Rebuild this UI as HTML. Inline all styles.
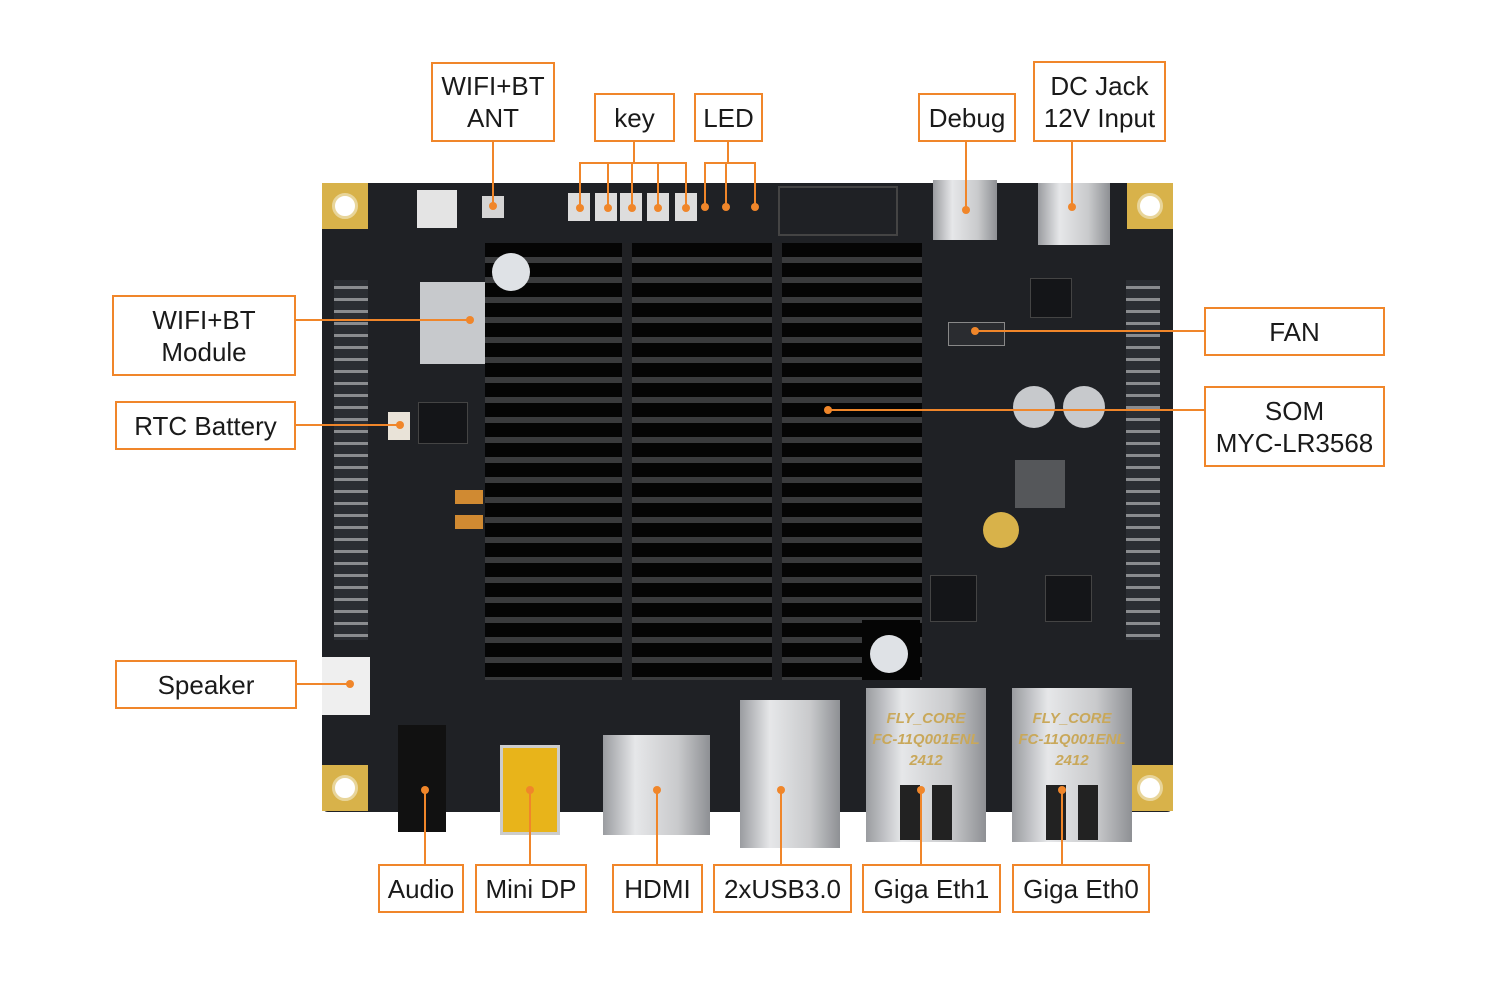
<!DOCTYPE html>
<html><head><meta charset="utf-8"><style>
body{margin:0;width:1500px;height:1000px;background:#fff;position:relative;overflow:hidden;font-family:"Liberation Sans",sans-serif}
.a{position:absolute}
.lb{position:absolute;border:2px solid #f0862a;background:#fff;color:#1a1a1a;font-size:26px;line-height:32px;text-align:center;display:flex;align-items:center;justify-content:center;box-sizing:border-box;font-family:"Liberation Sans",sans-serif}
.hole{position:absolute;width:46px;height:46px;background:#d8b24a}
.hole i{position:absolute;left:10px;top:10px;width:26px;height:26px;border-radius:50%;background:#fff;border:3px solid #e8d59a;box-sizing:border-box}
.hdr{position:absolute;background:repeating-linear-gradient(#2b2e33 0 6px,#8a8c8f 6px 9px,#2b2e33 9px 12px)}
.chip{position:absolute;background:#141518;border:1px solid #444}
.silver{position:absolute;background:linear-gradient(90deg,#9a9ca0,#e6e7e9 30%,#c9cacc 70%,#8e9094)}
.fly{position:absolute;color:#c9a85a;font-size:15px;line-height:21px;text-align:center;font-style:italic;white-space:nowrap;font-weight:bold}
</style></head><body>
<div class="a" style="left:322px;top:183px;width:851px;height:629px;background:#1f2125;border-radius:6px"></div>
<div class="hole" style="left:322px;top:183px"><i></i></div>
<div class="hole" style="left:1127px;top:183px"><i></i></div>
<div class="hole" style="left:322px;top:765px"><i></i></div>
<div class="hole" style="left:1127px;top:765px"><i></i></div>
<div class="hdr" style="left:334px;top:280px;width:34px;height:360px"></div>
<div class="hdr" style="left:1126px;top:280px;width:34px;height:360px"></div>
<div class="a" style="left:420px;top:282px;width:68px;height:82px;background:#c7c9cc"></div>
<div class="chip" style="left:418px;top:402px;width:48px;height:40px"></div>
<div class="a" style="left:388px;top:412px;width:22px;height:28px;background:#e9e3d8"></div>
<div class="a" style="left:455px;top:490px;width:28px;height:14px;background:#d08a32"></div>
<div class="a" style="left:455px;top:515px;width:28px;height:14px;background:#d08a32"></div>
<div class="a" style="left:417px;top:190px;width:40px;height:38px;background:#e4e4e4"></div>
<div class="chip" style="left:1030px;top:278px;width:40px;height:38px"></div>
<div class="a" style="left:1013px;top:386px;width:42px;height:42px;border-radius:50%;background:#c7c9cc"></div>
<div class="a" style="left:1063px;top:386px;width:42px;height:42px;border-radius:50%;background:#c7c9cc"></div>
<div class="a" style="left:1015px;top:460px;width:50px;height:48px;background:#55575a"></div>
<div class="a" style="left:983px;top:512px;width:36px;height:36px;border-radius:50%;background:#d8b24a"></div>
<div class="chip" style="left:930px;top:575px;width:45px;height:45px"></div>
<div class="chip" style="left:1045px;top:575px;width:45px;height:45px"></div>
<div class="a" style="left:948px;top:322px;width:55px;height:22px;background:#2a2c30;border:1px solid #888"></div>
<div class="a" style="left:485px;top:243px;width:437px;height:437px;background:repeating-linear-gradient(#050505 0 14px,#3a3b3d 14px 20px)"></div>
<div class="a" style="left:622px;top:243px;width:10px;height:437px;background:#202124"></div>
<div class="a" style="left:772px;top:243px;width:10px;height:437px;background:#202124"></div>
<div class="a" style="left:492px;top:253px;width:38px;height:38px;border-radius:50%;background:#dfe2e6"></div>
<div class="a" style="left:862px;top:620px;width:58px;height:60px;background:#050505"></div>
<div class="a" style="left:870px;top:635px;width:38px;height:38px;border-radius:50%;background:#dfe2e6"></div>
<div class="a" style="left:482px;top:196px;width:22px;height:22px;background:#d4d4d4"></div>
<div class="a" style="left:568px;top:193px;width:22px;height:28px;background:#ddd"></div>
<div class="a" style="left:595px;top:193px;width:22px;height:28px;background:#ddd"></div>
<div class="a" style="left:620px;top:193px;width:22px;height:28px;background:#ddd"></div>
<div class="a" style="left:647px;top:193px;width:22px;height:28px;background:#ddd"></div>
<div class="a" style="left:675px;top:193px;width:22px;height:28px;background:#ddd"></div>
<div class="a" style="left:778px;top:186px;width:120px;height:50px;border:2px solid #444;box-sizing:border-box"></div>
<div class="silver" style="left:933px;top:180px;width:64px;height:60px"></div>
<div class="silver" style="left:1038px;top:183px;width:72px;height:62px"></div>
<div class="a" style="left:322px;top:657px;width:48px;height:58px;background:#efefef"></div>
<div class="a" style="left:398px;top:725px;width:48px;height:107px;background:#111"></div>
<div class="a" style="left:500px;top:745px;width:60px;height:90px;background:#e8b41a;border:3px solid #ccc;box-sizing:border-box"></div>
<div class="silver" style="left:603px;top:735px;width:107px;height:100px"></div>
<div class="silver" style="left:740px;top:700px;width:100px;height:148px"></div>
<div class="silver" style="left:866px;top:688px;width:120px;height:154px"></div>
<div class="silver" style="left:1012px;top:688px;width:120px;height:154px"></div>
<div class="a" style="left:900px;top:785px;width:20px;height:55px;background:#222"></div>
<div class="a" style="left:932px;top:785px;width:20px;height:55px;background:#222"></div>
<div class="a" style="left:1046px;top:785px;width:20px;height:55px;background:#222"></div>
<div class="a" style="left:1078px;top:785px;width:20px;height:55px;background:#222"></div>
<div class="fly" style="left:866px;top:708px;width:120px">FLY_CORE<br>FC-11Q001ENL<br>2412</div>
<div class="fly" style="left:1012px;top:708px;width:120px">FLY_CORE<br>FC-11Q001ENL<br>2412</div>
<svg class="a" style="left:0;top:0" width="1500" height="1000">
<g stroke="#f0862a" stroke-width="2" fill="none">
<path d="M493 141V206"/>
<path d="M634 141V163M580 208V163H686V208M608 163V208M632 163V208M658 163V208"/>
<path d="M728 141V163M705 207V163H755V207M726 163V207"/>
<path d="M966 141V210"/><path d="M1072 141V207"/>
<path d="M295 320H470"/><path d="M295 425H400"/>
<path d="M1204 331H975"/><path d="M1204 410H828"/>
<path d="M296 684H350"/>
<path d="M425 864V790M530 864V790M657 864V790M781 864V790M921 864V790M1062 864V790"/>
</g>
<g fill="#f0862a">
<circle cx="493" cy="206" r="4"/><circle cx="580" cy="208" r="4"/><circle cx="608" cy="208" r="4"/><circle cx="632" cy="208" r="4"/><circle cx="658" cy="208" r="4"/><circle cx="686" cy="208" r="4"/>
<circle cx="705" cy="207" r="4"/><circle cx="726" cy="207" r="4"/><circle cx="755" cy="207" r="4"/>
<circle cx="966" cy="210" r="4"/><circle cx="1072" cy="207" r="4"/><circle cx="470" cy="320" r="4"/><circle cx="400" cy="425" r="4"/>
<circle cx="975" cy="331" r="4"/><circle cx="828" cy="410" r="4"/><circle cx="350" cy="684" r="4"/>
<circle cx="425" cy="790" r="4"/><circle cx="530" cy="790" r="4"/><circle cx="657" cy="790" r="4"/><circle cx="781" cy="790" r="4"/><circle cx="921" cy="790" r="4"/><circle cx="1062" cy="790" r="4"/>
</g></svg>
<div class="lb" style="left:431px;top:62px;width:124px;height:80px">WIFI+BT<br>ANT</div>
<div class="lb" style="left:594px;top:93px;width:81px;height:49px">key</div>
<div class="lb" style="left:694px;top:93px;width:69px;height:49px">LED</div>
<div class="lb" style="left:918px;top:93px;width:98px;height:49px">Debug</div>
<div class="lb" style="left:1033px;top:61px;width:133px;height:81px">DC Jack<br>12V Input</div>
<div class="lb" style="left:112px;top:295px;width:184px;height:81px">WIFI+BT<br>Module</div>
<div class="lb" style="left:115px;top:401px;width:181px;height:49px">RTC Battery</div>
<div class="lb" style="left:1204px;top:307px;width:181px;height:49px">FAN</div>
<div class="lb" style="left:1204px;top:386px;width:181px;height:81px">SOM<br>MYC-LR3568</div>
<div class="lb" style="left:115px;top:660px;width:182px;height:49px">Speaker</div>
<div class="lb" style="left:378px;top:864px;width:86px;height:49px">Audio</div>
<div class="lb" style="left:475px;top:864px;width:112px;height:49px">Mini DP</div>
<div class="lb" style="left:612px;top:864px;width:91px;height:49px">HDMI</div>
<div class="lb" style="left:713px;top:864px;width:139px;height:49px">2xUSB3.0</div>
<div class="lb" style="left:862px;top:864px;width:139px;height:49px">Giga Eth1</div>
<div class="lb" style="left:1012px;top:864px;width:138px;height:49px">Giga Eth0</div>
</body></html>
